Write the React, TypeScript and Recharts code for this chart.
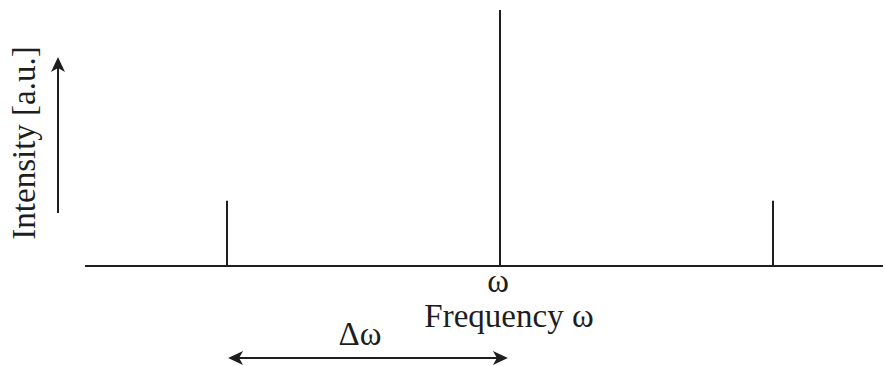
import React from 'react';
import { ComposedChart, Line, XAxis, YAxis, ReferenceLine } from 'recharts';

// Peak positions (in units of Δω relative to ω) and intensities (a.u.)
const peakFreqs = [-1, 0, 1];
const peakIntensities = [0.255, 1, 0.255];
const xTicks = [0];
const xTickLabels = ['ω'];
const xAxisTitle = 'Frequency ω';
const yAxisTitle = 'Intensity [a.u.]';
const deltaLabel = 'Δω';
// annotation arrows (data coordinates)
const deltaArrowFreqs = [-0.996, 0.029];
const deltaArrowLevel = -0.359;
const yArrowFreq = -1.619;
const yArrowLevels = [0.207, 0.816];

const peakSeries = peakFreqs.map((f, k) => [
  { f, i: 0 },
  { f, i: peakIntensities[k] },
]);

const INK = '#1e1e1e';
const FONT = '"Liberation Serif", "Times New Roman", serif';
const FS = 33;

const head = (tx: number, ty: number, dx: number, dy: number) => {
  const L = 15, W = 7, N = 11;
  const bx = tx - dx * L, by = ty - dy * L;
  const nx = tx - dx * N, ny = ty - dy * N;
  const px = -dy, py = dx;
  return `${tx},${ty} ${bx + px * W},${by + py * W} ${nx},${ny} ${bx - px * W},${by - py * W}`;
};

const ArrowShape = (props: any) => {
  const { x1, y1, x2, y2, both, text } = props;
  const len = Math.hypot(x2 - x1, y2 - y1) || 1;
  const dx = (x2 - x1) / len, dy = (y2 - y1) / len;
  return (
    <g>
      <line x1={both ? x1 + dx * 10 : x1} y1={both ? y1 + dy * 10 : y1} x2={x2 - dx * 10} y2={y2 - dy * 10} stroke={INK} strokeWidth={2} />
      <polygon points={head(x2, y2, dx, dy)} fill={INK} />
      {both && <polygon points={head(x1, y1, -dx, -dy)} fill={INK} />}
      {text && (
        <text x={(x1 + x2) / 2 - 8} y={y1 - 13} textAnchor="middle" fontFamily={FONT} fontSize={FS} fill={INK}>
          {text}
        </text>
      )}
    </g>
  );
};

const OmegaTick = (props: any) => {
  const { x, y, payload } = props;
  const idx = xTicks.indexOf(payload.value);
  return (
    <text x={x - 2} y={y + 26} textAnchor="middle" fontFamily={FONT} fontSize={FS} fill={INK}>
      {idx >= 0 ? xTickLabels[idx] : ''}
    </text>
  );
};

const XTitle = (props: any) => {
  const { viewBox } = props;
  return (
    <text x={509} y={viewBox.y + 61} textAnchor="middle" fontFamily={FONT} fontSize={FS} fill={INK}>
      {xAxisTitle}
    </text>
  );
};

const YTitle = (props: any) => {
  const { viewBox } = props;
  const cx = 35;
  const cy = viewBox.y + 133;
  return (
    <text x={cx} y={cy} transform={`rotate(-90, ${cx}, ${cy})`} textAnchor="middle" fontFamily={FONT} fontSize={FS} fill={INK}>
      {yAxisTitle}
    </text>
  );
};

export default function App() {
  return (
    <div style={{ position: 'absolute', left: 0, top: 0, width: 885, height: 366, background: '#fff' }}>
      <ComposedChart width={885} height={366} margin={{ top: 10, right: 2, bottom: 0, left: 0 }}>
        <XAxis
          dataKey="f"
          type="number"
          domain={[-1.5201, 1.4029]}
          allowDataOverflow
          ticks={xTicks}
          tickSize={0}
          tickMargin={0}
          tickLine={false}
          tick={<OmegaTick />}
          height={100}
          axisLine={{ stroke: INK, strokeWidth: 2 }}
          label={{ content: <XTitle /> }}
        />
        <YAxis
          type="number"
          domain={[0, 1]}
          allowDataOverflow
          width={85}
          axisLine={false}
          tickLine={false}
          tick={false}
          label={{ content: <YTitle /> }}
        />
        {peakSeries.map((d, k) => (
          <Line
            key={k}
            data={d}
            dataKey="i"
            stroke={INK}
            strokeWidth={2}
            dot={false}
            activeDot={false}
            isAnimationActive={false}
          />
        ))}
        <ReferenceLine
          segment={[
            { x: deltaArrowFreqs[0], y: deltaArrowLevel },
            { x: deltaArrowFreqs[1], y: deltaArrowLevel },
          ]}
          ifOverflow="visible"
          shape={(p: any) => <ArrowShape {...p} both text={deltaLabel} />}
        />
        <ReferenceLine
          segment={[
            { x: yArrowFreq, y: yArrowLevels[0] },
            { x: yArrowFreq, y: yArrowLevels[1] },
          ]}
          ifOverflow="visible"
          shape={(p: any) => <ArrowShape {...p} />}
        />
      </ComposedChart>
    </div>
  );
}
